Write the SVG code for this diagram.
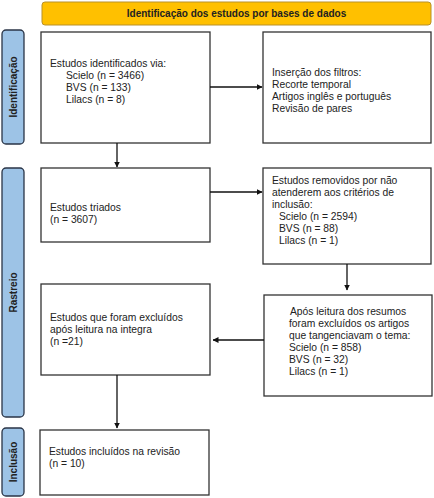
<svg xmlns="http://www.w3.org/2000/svg" width="434" height="498" viewBox="0 0 434 498">
<style>
.box{fill:#fff;stroke:#333;stroke-width:1.3}
.side{fill:#9dc3e6;stroke:#2a3547;stroke-width:1.3}
.banner{fill:#ffc000;stroke:#b8912a;stroke-width:1}
.t{font-family:"Liberation Sans",Arial,sans-serif;font-size:10.3px;fill:#222}
.b{font-family:"Liberation Sans",Arial,sans-serif;font-size:10px;font-weight:bold;fill:#222}
.c{stroke:#111;stroke-width:1.3;fill:none}
</style>
<defs>
<marker id="ah" markerWidth="6" markerHeight="6" refX="5.5" refY="3" orient="auto" markerUnits="userSpaceOnUse">
<path d="M0,0 L6,3 L0,6 Z" fill="#111"/>
</marker>
</defs>
<rect width="434" height="498" fill="#fff"/>
<g id="banner">
<rect class="banner" x="42" y="2" width="389" height="23" rx="3"/>
<text class="b" x="236.5" y="17" text-anchor="middle">Identificação dos estudos por bases de dados</text>
</g>
<g id="side-identificacao">
<rect class="side" x="2" y="30" width="22" height="114" rx="4"/>
<text class="b" transform="translate(16.5,87) rotate(-90)" text-anchor="middle">Identificação</text>
</g>
<g id="side-rastreio">
<rect class="side" x="2" y="168" width="22" height="249" rx="4"/>
<text class="b" transform="translate(16.5,292.5) rotate(-90)" text-anchor="middle">Rastreio</text>
</g>
<g id="side-inclusao">
<rect class="side" x="2" y="428" width="22" height="68" rx="4"/>
<text class="b" transform="translate(16.5,462) rotate(-90)" text-anchor="middle">Inclusão</text>
</g>
<g id="identificados">
<rect class="box" x="41" y="32" width="169" height="111"/>
<text class="t" x="50" y="67">Estudos identificados via:</text>
<text class="t" x="66" y="79">Scielo (n = 3466)</text>
<text class="t" x="66" y="91">BVS (n = 133)</text>
<text class="t" x="66" y="103">Lilacs (n = 8)</text>
</g>
<g id="filtros">
<rect class="box" x="263" y="32" width="168" height="111"/>
<text class="t" x="272" y="76">Inserção dos filtros:</text>
<text class="t" x="272" y="88">Recorte temporal</text>
<text class="t" x="272" y="100">Artigos inglês e português</text>
<text class="t" x="272" y="112">Revisão de pares</text>
</g>
<g id="triados">
<rect class="box" x="41" y="168" width="169" height="74"/>
<text class="t" x="50" y="211">Estudos triados</text>
<text class="t" x="50" y="223">(n = 3607)</text>
</g>
<g id="removidos">
<rect class="box" x="263" y="168" width="168" height="96"/>
<text class="t" x="272" y="184">Estudos removidos por não</text>
<text class="t" x="272" y="196">atenderem aos critérios de</text>
<text class="t" x="272" y="208">inclusão:</text>
<text class="t" x="279" y="220">Scielo (n = 2594)</text>
<text class="t" x="279" y="232">BVS (n = 88)</text>
<text class="t" x="279" y="244">Lilacs (n = 1)</text>
</g>
<g id="excluidos-integra">
<rect class="box" x="41" y="284" width="169" height="91"/>
<text class="t" x="50" y="321">Estudos que foram excluídos</text>
<text class="t" x="50" y="333">após leitura na integra</text>
<text class="t" x="50" y="345">(n =21)</text>
</g>
<g id="excluidos-resumos">
<rect class="box" x="264" y="295" width="168" height="101"/>
<text class="t" x="290" y="315">Após leitura dos resumos</text>
<text class="t" x="289" y="327">foram excluídos os artigos</text>
<text class="t" x="289" y="339">que tangenciavam o tema:</text>
<text class="t" x="289" y="351">Scielo (n = 858)</text>
<text class="t" x="289" y="363">BVS (n = 32)</text>
<text class="t" x="289" y="375">Lilacs (n = 1)</text>
</g>
<g id="incluidos">
<rect class="box" x="40" y="430" width="169" height="65"/>
<text class="t" x="49" y="455">Estudos incluídos na revisão</text>
<text class="t" x="49" y="467">(n = 10)</text>
</g>
<g id="connectors">
<line class="c" x1="210" y1="87" x2="262" y2="87" marker-end="url(#ah)"/>
<line class="c" x1="117" y1="143" x2="117" y2="167" marker-end="url(#ah)"/>
<line class="c" x1="210" y1="192" x2="262" y2="192" marker-end="url(#ah)"/>
<line class="c" x1="347" y1="264" x2="347" y2="290" marker-end="url(#ah)"/>
<line class="c" x1="264" y1="340" x2="213" y2="340" marker-end="url(#ah)"/>
<line class="c" x1="117" y1="375" x2="117" y2="428" marker-end="url(#ah)"/>
</g>
</svg>
